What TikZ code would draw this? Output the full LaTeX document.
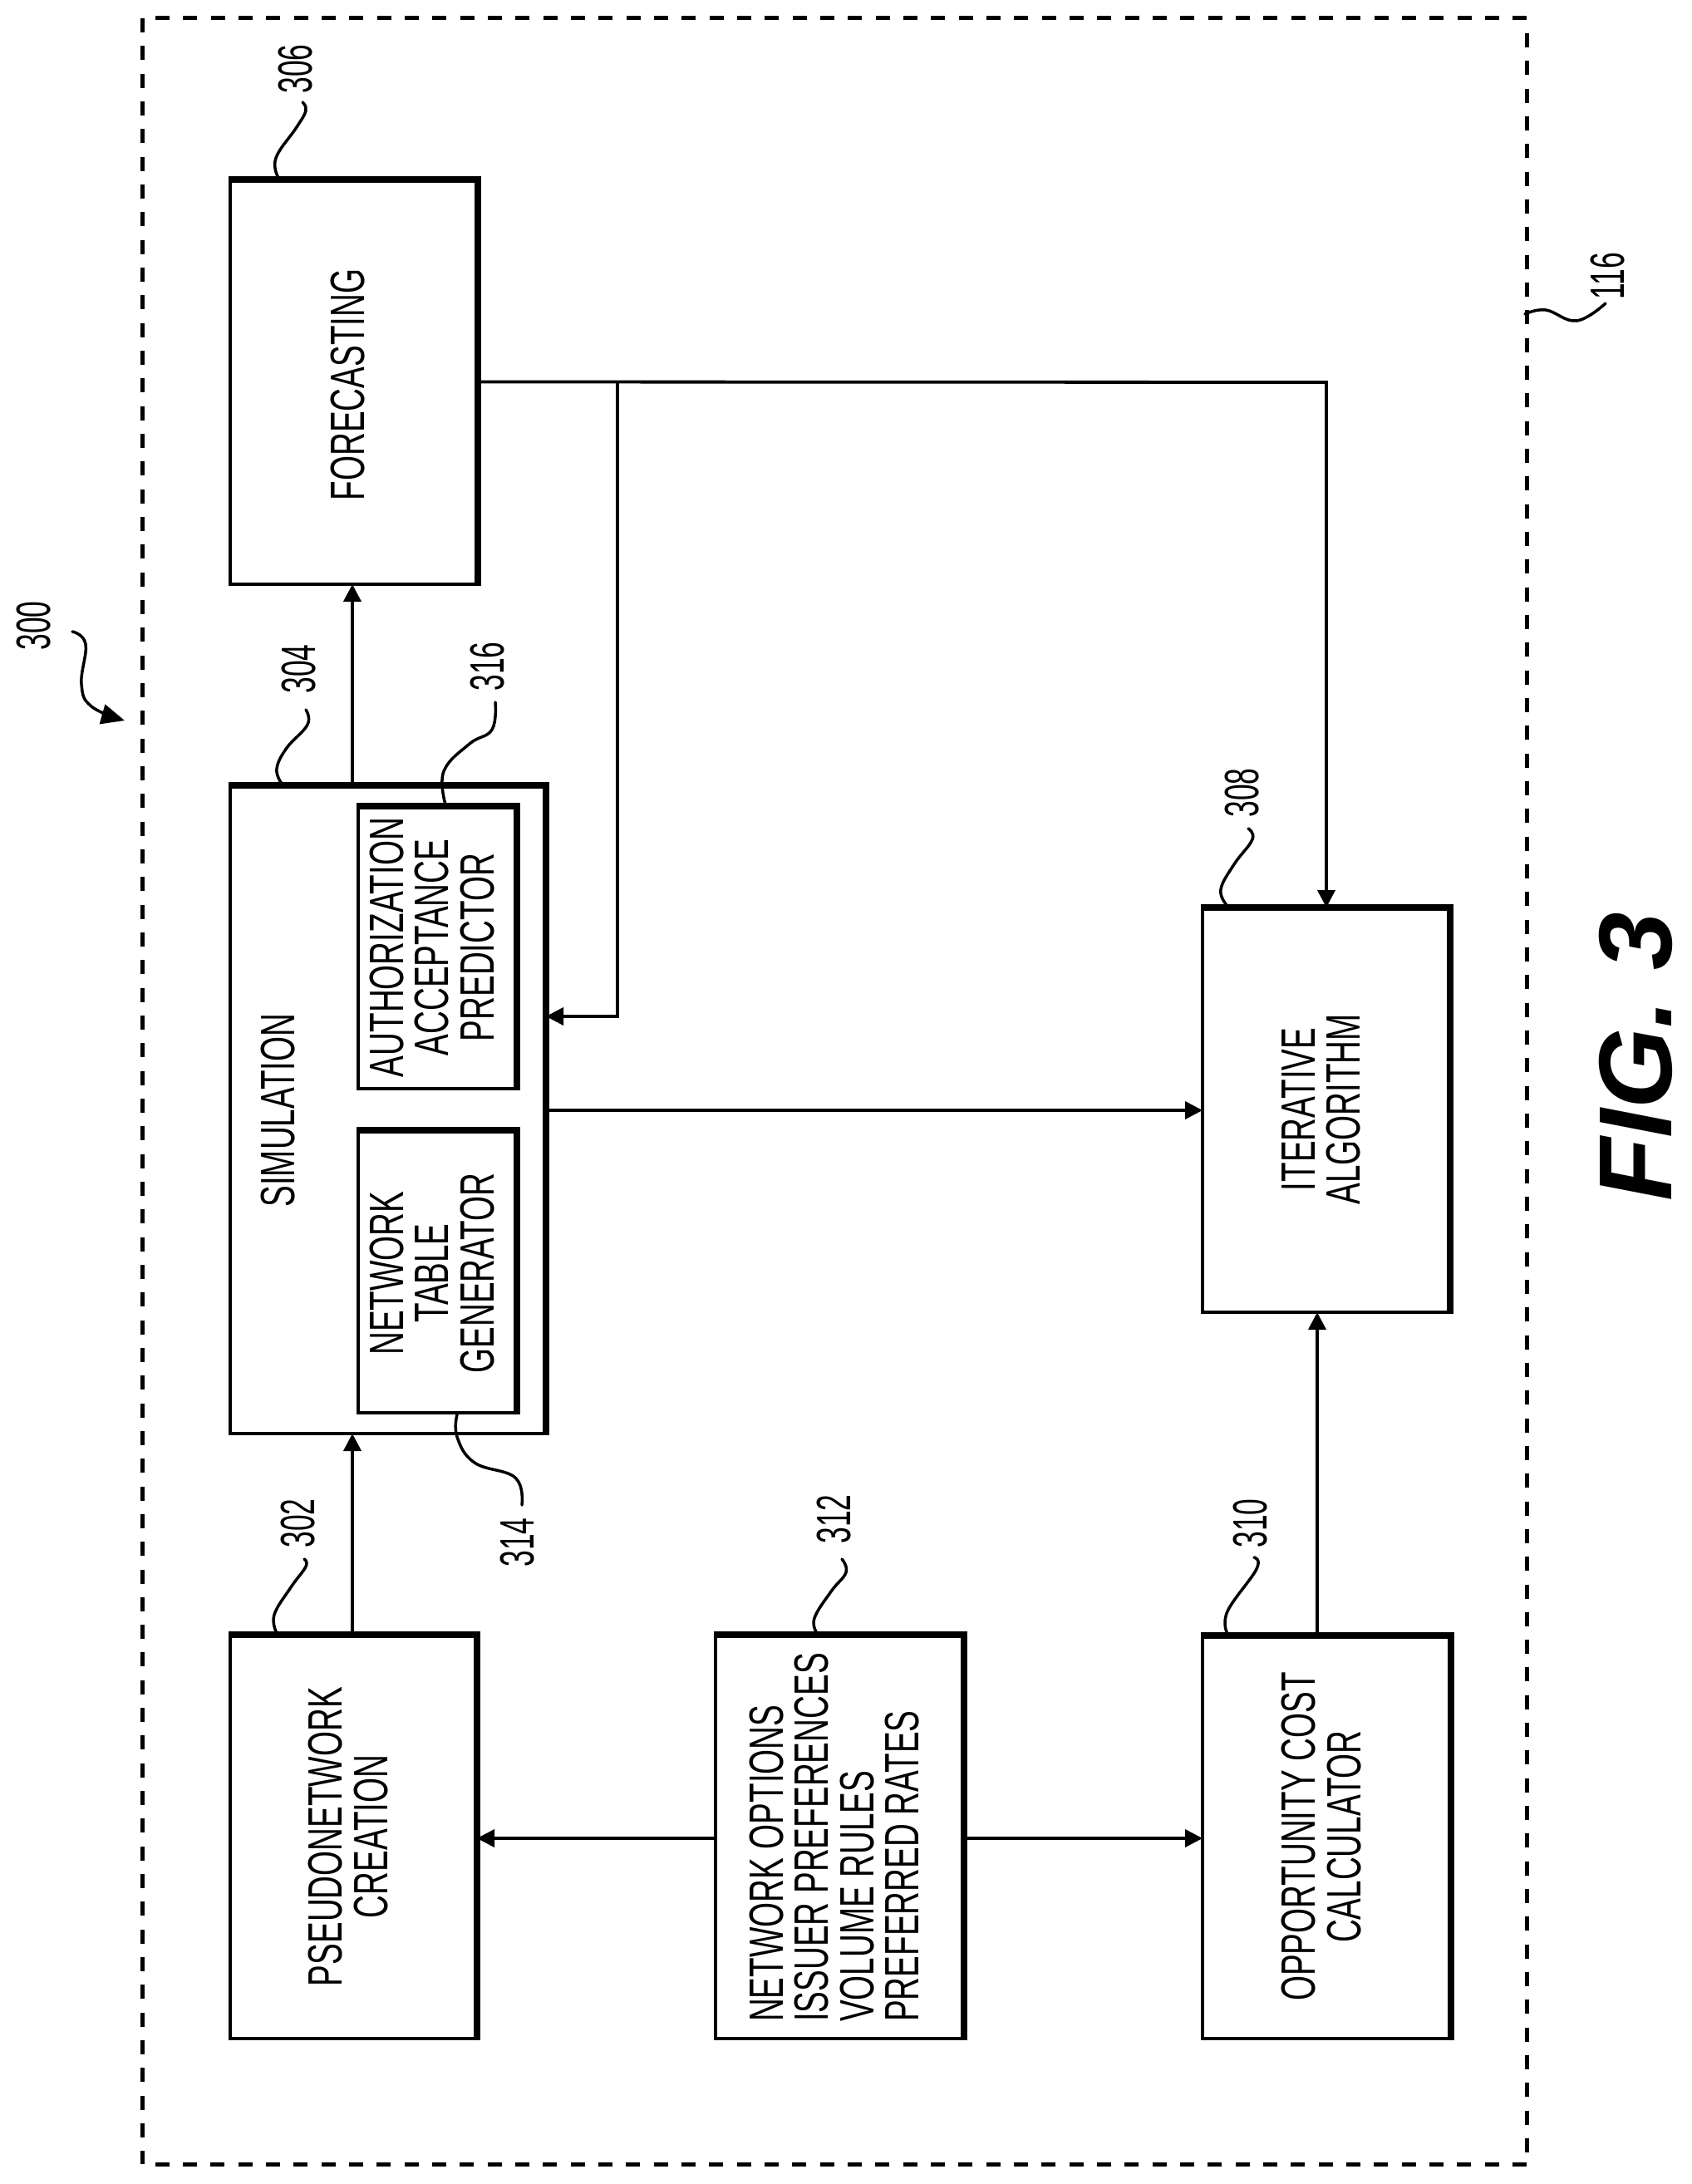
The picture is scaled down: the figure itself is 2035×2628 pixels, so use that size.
\documentclass[tikz,border=0pt]{standalone}
\usepackage{fontspec}
\usetikzlibrary{arrows.meta}
\newfontfamily\bodyfont[FakeStretch=0.665]{Liberation Sans}
\newfontfamily\numfont[FakeStretch=0.61]{Liberation Sans}
\newfontfamily\figfont[BoldFont={Liberation Sans Bold Italic}]{Liberation Sans Bold Italic}
\tikzset{
  boxnode/.style={draw=black,line width=4pt,rectangle,inner sep=0pt,outer sep=0pt},
  thickedge/.style={line width=8pt,line cap=butt,line join=miter},
  txt/.style={rotate=90,align=center,inner sep=0pt,outer sep=0pt,font=\bodyfont\fontsize{58}{54.5}\selectfont},
  num/.style={rotate=90,inner sep=0pt,outer sep=0pt,font=\numfont\fontsize{58}{58}\selectfont},
  conn/.style={line width=3.8pt,line join=miter},
  arr/.style={conn,-{Triangle[length=21pt,width=21pt]}},
  leader/.style={line width=3.5pt,line cap=round},
  framedash/.style={line width=5pt,dash pattern=on 17pt off 16.33pt}
}
\newcommand{\mkbox}[5]{%
  \pgfmathsetmacro{\bw}{#4-#2}\pgfmathsetmacro{\bh}{#5-#3}%
  \pgfmathsetmacro{\cx}{(#4+#2)/2}\pgfmathsetmacro{\cy}{(#5+#3)/2}%
  \node[boxnode,minimum width=\bw pt,minimum height=\bh pt] (#1) at (\cx,\cy) {};%
  \draw[thickedge] ([xshift=-2pt]#1.north west) -- (#1.north east) -- ([yshift=-2pt]#1.south east);%
}
\begin{document}
\begin{tikzpicture}[x=1pt,y=-1pt]
\useasboundingbox (0,0) rectangle (2035,2628);
% frame
\coordinate (fTL) at (171,22);
\coordinate (fTR) at (1837,22);
\coordinate (fBL) at (171,2604);
\coordinate (fBR) at (1837,2604);
\coordinate (fTs) at (187,22);
\coordinate (fRs) at (1837,40);
\draw[framedash] (fTs) -- (fTR);
\draw[framedash] (fRs) -- (fBR);
\draw[framedash] (fBR) -- (fBL);
\draw[framedash] (fTL) -- (fBL);
% boxes
\mkbox{b306}{277}{216}{575}{703}
\mkbox{b304}{277}{945}{657}{1725}
\mkbox{b316}{431}{970}{622}{1310}
\mkbox{b314}{431}{1360}{622}{1700}
\mkbox{b308}{1447}{1092}{1745}{1579}
\mkbox{b302}{277}{1967}{574}{2453}
\mkbox{b312}{861}{1967}{1160}{2453}
\mkbox{b310}{1447}{1968}{1746}{2453}
% box texts
\node[txt] (t306) at (419,463) {FORECASTING};
\node[txt] (t304) at (335,1336) {SIMULATION};
\node[txt] (t316) at (520,1140) {AUTHORIZATION\\ACCEPTANCE\\PREDICTOR};
\node[txt] (t314) at (520,1532) {NETWORK\\TABLE\\GENERATOR};
\node[txt] (t308) at (1590,1335) {ITERATIVE\\ALGORITHM};
\node[txt] (t302) at (419,2210) {PSEUDONETWORK\\CREATION};
\node[txt,align=left] (t312) at (1004,2211) {NETWORK OPTIONS\\ISSUER PREFERENCES\\VOLUME RULES\\PREFERRED RATES};
\node[txt] (t310) at (1590,2210) {OPPORTUNITY COST\\CALCULATOR};
% connector guides
\coordinate (ax) at (424,0);
\coordinate (tr) at (1596,460);
\coordinate (jn) at (743,460);
\coordinate (mb) at (743,1223);
\coordinate (ry) at (0,2212);
\coordinate (sy) at (0,1336);
\coordinate (ox) at (1585,0);
% connectors
\draw[arr] (ax |- b302.north) -- (ax |- b304.south);
\draw[arr] (ax |- b304.north) -- (ax |- b306.south);
\draw[arr] (b306.east) -- (tr) -- (tr |- b308.north);
\draw[arr] (jn) -- (mb) -- (b304.east |- mb);
\draw[arr] (b304.east |- sy) -- (b308.west |- sy);
\draw[arr] (ox |- b310.north) -- (ox |- b308.south);
\draw[arr] (b312.west |- ry) -- (b302.east |- ry);
\draw[arr] (b312.east |- ry) -- (b310.west |- ry);
% reference numbers
\node[num] (n300) at (41,753) {300};
\node[num] (n302) at (359,1833) {302};
\node[num] (n304) at (360,805) {304};
\node[num] (n306) at (356,83) {306};
\node[num] (n308) at (1495,954) {308};
\node[num] (n310) at (1505,1833) {310};
\node[num] (n312) at (1004,1828) {312};
\node[num] (n314) at (623,1856) {314};
\node[num] (n316) at (587,802) {316};
\node[num] (n116) at (1935,332) {116};
% leaders
\draw[leader] plot[smooth,tension=.7] coordinates {(335,214) (332,190) (357,153) (368,133) (364,123)};
\draw[leader] plot[smooth,tension=.7] coordinates {(339,943) (333,925) (345,900) (370,872) (368,854)};
\draw[leader] plot[smooth,tension=.7] coordinates {(536,968) (534,928) (565,895) (592,878) (596,845)};
\draw[leader] plot[smooth,tension=.7] coordinates {(550,1702) (550,1729) (571,1760) (620,1778) (628,1811)};
\draw[leader] plot[smooth,tension=.7] coordinates {(333,1965) (330,1943) (350,1910) (368,1885) (366,1876)};
\draw[leader] plot[smooth,tension=.7] coordinates {(983,1965) (980,1947) (1000,1915) (1018,1892) (1013,1876)};
\draw[leader] plot[smooth,tension=.7] coordinates {(1476,1089) (1469,1070) (1485,1040) (1507,1010) (1502,997)};
\draw[leader] plot[smooth,tension=.7] coordinates {(1477,1966) (1477,1939) (1512,1888) (1509,1874)};
\draw[leader] plot[smooth,tension=.7] coordinates {(1835,378) (1860,373) (1897,386) (1932,365)};
\draw[leader,-{Triangle[length=28pt,width=24pt]}] plot[smooth,tension=.7] coordinates {(87,760) (103,775) (98,823) (110,850) (150,867)};
% figure label
\node[rotate=90,inner sep=0pt,outer sep=0pt,font=\figfont\fontsize{125}{125}\selectfont] (fig) at (1968,1272) {FIG. 3};
\end{tikzpicture}
\end{document}
